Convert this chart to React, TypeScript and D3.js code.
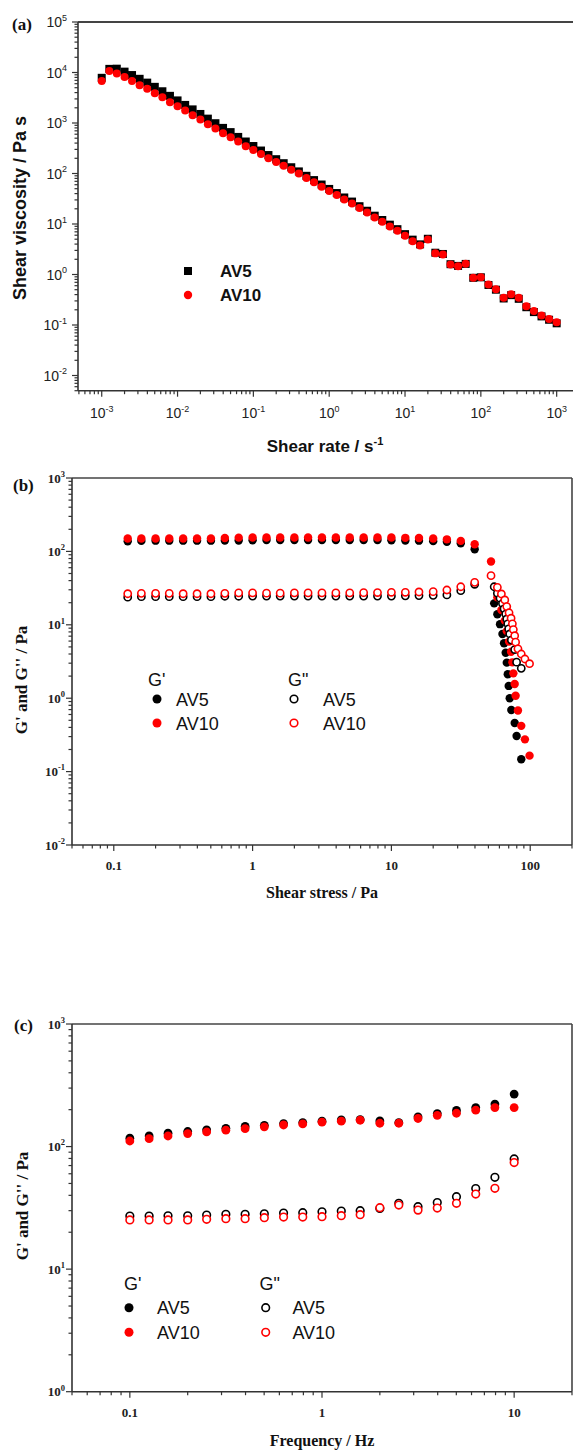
import React from "react";
import * as d3 from "d3";

// ---------- Panel (a): steady shear viscosity ----------
const shearRate = [
  0.001, 0.00126, 0.00158, 0.002, 0.00251, 0.00316, 0.00398, 0.00501, 0.00631, 0.00794,
  0.01, 0.0126, 0.0158, 0.02, 0.0251, 0.0316, 0.0398, 0.0501, 0.0631, 0.0794,
  0.1, 0.126, 0.158, 0.2, 0.251, 0.316, 0.398, 0.501, 0.631, 0.794,
  1, 1.26, 1.58, 2, 2.51, 3.16, 3.98, 5.01, 6.31, 7.94,
  10, 12.6, 15.8, 20, 25.1, 31.6, 39.8, 50.1, 63.1, 79.4,
  100, 126, 158, 200, 251, 316, 398, 501, 631, 794,
  1000,
];
const viscAV5 = [
  7850, 11800, 11900, 10400, 8900, 7500, 6300, 5200, 4250, 3450,
  2800, 2280, 1860, 1510, 1220, 990, 800, 660, 530, 430,
  350, 285, 232, 192, 160, 133, 110, 90, 74, 60.5,
  49.5, 41, 33.5, 27.8, 22.5, 18.3, 14.6, 12, 9.7, 7.9,
  6.3, 4.9, 3.95, 5.1, 2.7, 2.55, 1.6, 1.48, 1.62, 0.86,
  0.88, 0.62, 0.5, 0.335, 0.39, 0.33, 0.225, 0.18, 0.148, 0.127,
  0.108,
];
const viscAV10 = [
  6750, 10660, 9600, 8100, 6750, 5620, 4750, 3900, 3250, 2590,
  2150, 1770, 1430, 1170, 946, 778, 628, 523, 430, 347,
  293, 244, 201, 169, 142, 119, 99.5, 81.5, 66.9, 54.9,
  45, 37.4, 30.7, 25.6, 20.7, 16.8, 13.5, 11.1, 8.96, 7.36,
  5.86, 4.58, 3.74, 4.96, 2.62, 2.48, 1.58, 1.46, 1.63, 0.86,
  0.885, 0.634, 0.511, 0.345, 0.406, 0.345, 0.235, 0.19, 0.154, 0.132,
  0.113,
];

// ---------- Panel (b): amplitude (stress) sweep ----------
const stressPlateau = [
  0.126, 0.158, 0.2, 0.251, 0.316, 0.398, 0.501, 0.631, 0.794, 1,
  1.26, 1.58, 2, 2.51, 3.16, 3.98, 5.01, 6.31, 7.94, 10,
  12.6, 15.8, 20, 25.1, 31.6, 39.8,
];
const stressAV5 = [55, 58, 60.6, 63.1, 64.8, 66.6, 67.8, 68.9, 70, 71.2, 73.1, 77.3, 79.8, 86.2];
const stressAV10 = [52.2, 58, 62, 65.6, 67.8, 70.4, 72.8, 74.4, 75.6, 77.3, 78.5, 81.6, 86.2, 91.6, 98.9];

const gpAV5Plateau = [137, 139, 140, 140, 140, 140, 140, 141, 141, 142, 143, 143, 143, 143, 143, 143, 143, 143, 143, 142, 141, 140, 138, 135, 129, 107];
const gpAV5Drop = [19.6, 13.9, 10.2, 7.5, 5.6, 4.17, 3.05, 2.12, 1.47, 1.0, 0.69, 0.46, 0.305, 0.147];
const gppAV5Plateau = [23.8, 24.2, 24.2, 24.2, 24.2, 24.2, 24.2, 24.5, 24.5, 24.6, 24.6, 24.6, 24.6, 24.6, 24.6, 24.6, 24.6, 24.6, 24.6, 24.6, 24.8, 25, 25.2, 25.5, 29.2, 35.6];
const gppAV5Drop = [33, 27, 23, 19.5, 16.5, 14, 12, 10.3, 8.8, 7.5, 6.2, 4.6, 3.1, 2.55];

const gpAV10Plateau = [150, 150, 150, 150, 150, 150, 150, 152, 154, 155, 155, 155, 155, 155, 155, 155, 155, 155, 155, 155, 153, 152, 150, 146, 139, 125];
const gpAV10Drop = [73, 23.7, 15.9, 11.4, 8.2, 5.9, 4.3, 3.08, 2.18, 1.56, 1.08, 0.68, 0.42, 0.275, 0.165];
const gppAV10Plateau = [26.5, 26.8, 26.8, 26.8, 26.5, 26.5, 26.5, 26.8, 27.2, 27.2, 27, 27, 27.2, 27.2, 27.2, 27.2, 27.2, 27.4, 27.5, 27.7, 27.7, 28, 28.3, 29.8, 33, 37.9];
const gppAV10Drop = [46.7, 32.4, 26.3, 21.8, 17.7, 14.6, 12.3, 10.3, 8.6, 7.1, 5.8, 4.7, 4.0, 3.42, 2.95];

// ---------- Panel (c): frequency sweep ----------
const freq = [0.1, 0.126, 0.158, 0.2, 0.251, 0.316, 0.398, 0.501, 0.631, 0.794, 1, 1.26, 1.58, 2, 2.51, 3.16, 3.98, 5.01, 6.31, 7.94, 10];
const fGpAV5 = [117, 122, 128.5, 132.7, 137, 141, 146, 149, 154, 157, 161, 165, 166, 162, 157, 175, 186, 197, 208, 222, 268];
const fGpAV10 = [111, 116, 122, 127.6, 131.7, 136, 140, 145, 150, 153, 158, 161, 164, 155, 155, 169.5, 180, 187, 198, 208, 208];
const fGppAV5 = [27.1, 27.1, 27.2, 27.2, 27.6, 28, 28, 28.3, 28.7, 28.9, 29.4, 29.8, 30, 31.3, 34.4, 32.3, 34.9, 39, 45.4, 56.1, 79.3];
const fGppAV10 = [25.2, 25.2, 25.2, 25.2, 25.5, 25.8, 25.8, 26.3, 26.6, 26.6, 26.8, 27.3, 27.8, 31.7, 33.3, 30.3, 31.5, 34.4, 41, 45.6, 74];

const xTickLabelsB = ["0.1", "1", "10", "100"];
const xTickLabelsC = ["0.1", "1", "10"];

const SANS = "'Liberation Sans', Arial, sans-serif";
const SERIF = "'Liberation Serif', 'Times New Roman', serif";
const AX = "#333";
const RED = "#ff0000";

type LogScale = d3.ScaleLogarithmic<number, number>;

function logTicks(scale: LogScale) {
  const [a, b] = scale.domain();
  const lo = Math.min(a, b), hi = Math.max(a, b);
  const out: { v: number; major: boolean }[] = [];
  for (let d = Math.floor(Math.log10(lo)); d <= Math.ceil(Math.log10(hi)); d++) {
    for (let i = 1; i <= 9; i++) {
      const v = i * Math.pow(10, d);
      if (v >= lo * 0.999 && v <= hi * 1.001) out.push({ v, major: i === 1 });
    }
  }
  return out;
}

function Pow({ v, size, supSize, supDy }: { v: number; size: number; supSize: number; supDy: number }) {
  const e = Math.round(Math.log10(v));
  return (
    <>
      <tspan fontSize={size}>10</tspan>
      <tspan fontSize={supSize} dy={-supDy}>{String(e)}</tspan>
    </>
  );
}

function LeftAxis({ y, x, y0, y1, font, bold, size, supSize, labelX }: any) {
  const ticks = logTicks(y);
  return (
    <g>
      <line x1={x} x2={x} y1={y0} y2={y1} stroke={AX} strokeWidth={1.6} />
      {ticks.map((t, i) => (
        <line key={i} x1={x} x2={x - (t.major ? 6 : 3.5)} y1={y(t.v)} y2={y(t.v)} stroke={AX} strokeWidth={1.2} />
      ))}
      {ticks.filter((t) => t.major).map((t, i) => (
        <text key={"l" + i} x={labelX} y={y(t.v) + size * 0.36} textAnchor="end" fontFamily={font} fontWeight={bold ? "bold" : "normal"} fill="#222">
          <Pow v={t.v} size={size} supSize={supSize} supDy={size * 0.45} />
        </text>
      ))}
    </g>
  );
}

function BottomAxis({ x, yPos, x0, x1, font, bold, size, labelY, labels, pow }: any) {
  const ticks = logTicks(x);
  const majors = ticks.filter((t) => t.major);
  return (
    <g>
      <line x1={x0} x2={x1} y1={yPos} y2={yPos} stroke={AX} strokeWidth={1.6} />
      {ticks.map((t, i) => (
        <line key={i} x1={x(t.v)} x2={x(t.v)} y1={yPos} y2={yPos + (t.major ? 6 : 3.5)} stroke={AX} strokeWidth={1.2} />
      ))}
      {pow
        ? majors.map((t, i) => (
            <text key={"l" + i} x={x(t.v)} y={labelY} textAnchor="middle" fontFamily={font} fontWeight={bold ? "bold" : "normal"} fill="#222">
              <Pow v={t.v} size={size} supSize={size * 0.64} supDy={size * 0.45} />
            </text>
          ))
        : labels.map((lab: string) => (
            <text key={lab} x={x(+lab)} y={labelY} textAnchor="middle" fontFamily={font} fontWeight="bold" fontSize={size} fill="#222">
              {lab}
            </text>
          ))}
    </g>
  );
}

export default function App() {
  // Panel (a)
  const xA = d3.scaleLog().domain([5e-4, 2e3]).range([78.9, 579.5]);
  const yA = d3.scaleLog().domain([5e-3, 1e5]).range([390.7, 22]);
  // Panel (b)
  const xB = d3.scaleLog().domain([0.05, 200]).range([72, 572]);
  const yB = d3.scaleLog().domain([0.01, 1000]).range([845, 478]);
  // Panel (c)
  const xC = d3.scaleLog().domain([0.05, 20]).range([72, 572]);
  const yC = d3.scaleLog().domain([1, 1000]).range([1391.7, 1024]);

  const bAV5x = [...stressPlateau, ...stressAV5];
  const bAV10x = [...stressPlateau, ...stressAV10];
  const bGpAV5 = [...gpAV5Plateau, ...gpAV5Drop];
  const bGpAV10 = [...gpAV10Plateau, ...gpAV10Drop];
  const bGppAV5 = [...gppAV5Plateau, ...gppAV5Drop];
  const bGppAV10 = [...gppAV10Plateau, ...gppAV10Drop];

  const filled = (xs: number[], ys: number[], xs_: LogScale, ys_: LogScale, color: string, r: number, key: string) =>
    xs.map((v, i) => <circle key={key + i} cx={xs_(v)} cy={ys_(ys[i])} r={r} fill={color} />);
  const open = (xs: number[], ys: number[], xs_: LogScale, ys_: LogScale, color: string, r: number, key: string) =>
    xs.map((v, i) => <circle key={key + i} cx={xs_(v)} cy={ys_(ys[i])} r={r} fill="#fff" stroke={color} strokeWidth={1.6} />);

  return (
    <svg width={573} height={1450} style={{ position: "absolute", left: 0, top: 0, background: "#fff" }} xmlns="http://www.w3.org/2000/svg">
      <rect x={0} y={0} width={573} height={1450} fill="#fff" />

      {/* ================= Panel (a) ================= */}
      <text x={12} y={30} fontFamily={SERIF} fontWeight="bold" fontSize={17} fill="#111">(a)</text>
      <line x1={78} x2={573} y1={22} y2={22} stroke="#444" strokeWidth={2} />
      <LeftAxis y={yA} x={78} y0={22} y1={390.7} font={SANS} bold={false} size={14} supSize={9} labelX={67} />
      <BottomAxis x={xA} yPos={390.7} x0={78} x1={573} font={SANS} bold={false} size={14} labelY={418} pow />
      <text x={325} y={452} textAnchor="middle" fontFamily={SANS} fontWeight="bold" fontSize={17} fill="#111">
        Shear rate / s<tspan fontSize={11} dy={-7}>-1</tspan>
      </text>
      <text transform="translate(26,208) rotate(-90)" textAnchor="middle" fontFamily={SANS} fontWeight="bold" fontSize={18} fill="#111">
        Shear viscosity / Pa s
      </text>
      {shearRate.map((v, i) => (
        <rect key={"sq" + i} x={xA(v) - 4} y={yA(viscAV5[i]) - 4} width={8} height={8} fill="#000" />
      ))}
      {filled(shearRate, viscAV10, xA, yA, RED, 4, "ca")}
      {/* legend (a) */}
      <rect x={184} y={267} width={8} height={8} fill="#000" />
      <circle cx={188} cy={295} r={4.2} fill={RED} />
      <text x={220} y={277} fontFamily={SANS} fontWeight="bold" fontSize={17} fill="#111">AV5</text>
      <text x={220} y={301} fontFamily={SANS} fontWeight="bold" fontSize={17} fill="#111">AV10</text>

      {/* ================= Panel (b) ================= */}
      <text x={13} y={491} fontFamily={SERIF} fontWeight="bold" fontSize={17} fill="#111">(b)</text>
      <line x1={72} x2={572} y1={478} y2={478} stroke="#444" strokeWidth={1.6} />
      <line x1={572} x2={572} y1={478} y2={845} stroke="#444" strokeWidth={1.6} />
      <LeftAxis y={yB} x={72} y0={478} y1={845} font={SERIF} bold size={13} supSize={8.5} labelX={65} />
      <BottomAxis x={xB} yPos={845} x0={72} x1={572} font={SERIF} bold size={13} labelY={870} labels={xTickLabelsB} />
      <text x={322} y={898} textAnchor="middle" fontFamily={SERIF} fontWeight="bold" fontSize={16} fill="#111">Shear stress / Pa</text>
      <text transform="translate(27,680) rotate(-90)" textAnchor="middle" fontFamily={SERIF} fontWeight="bold" fontSize={17} fill="#111">
        G' and G'' / Pa
      </text>
      {filled(bAV5x, bGpAV5, xB, yB, "#000", 4.2, "bk")}
      {filled(bAV10x, bGpAV10, xB, yB, RED, 4.2, "br")}
      {open(bAV5x, bGppAV5, xB, yB, "#000", 3.6, "bko")}
      {open(bAV10x, bGppAV10, xB, yB, RED, 3.6, "bro")}
      {/* legend (b) */}
      <text x={148} y={686} fontFamily={SANS} fontSize={18} fill="#111">G'</text>
      <circle cx={157} cy={699} r={4.5} fill="#000" />
      <circle cx={157} cy={723} r={4.5} fill={RED} />
      <text x={176} y={705.5} fontFamily={SANS} fontSize={18} fill="#111">AV5</text>
      <text x={176} y={729.5} fontFamily={SANS} fontSize={18} fill="#111">AV10</text>
      <text x={288} y={686} fontFamily={SANS} fontSize={18} fill="#111">G"</text>
      <circle cx={294} cy={699} r={3.8} fill="#fff" stroke="#000" strokeWidth={1.6} />
      <circle cx={294} cy={723} r={3.8} fill="#fff" stroke={RED} strokeWidth={1.6} />
      <text x={323} y={705.5} fontFamily={SANS} fontSize={18} fill="#111">AV5</text>
      <text x={323} y={729.5} fontFamily={SANS} fontSize={18} fill="#111">AV10</text>

      {/* ================= Panel (c) ================= */}
      <text x={14} y={1031} fontFamily={SERIF} fontWeight="bold" fontSize={17} fill="#111">(c)</text>
      <line x1={72} x2={572} y1={1024} y2={1024} stroke="#444" strokeWidth={1.6} />
      <line x1={572} x2={572} y1={1024} y2={1391.7} stroke="#444" strokeWidth={1.6} />
      <LeftAxis y={yC} x={72} y0={1024} y1={1391.7} font={SERIF} bold size={13} supSize={8.5} labelX={65} />
      <BottomAxis x={xC} yPos={1391.7} x0={72} x1={572} font={SERIF} bold size={13} labelY={1416.5} labels={xTickLabelsC} />
      <text x={322} y={1445.5} textAnchor="middle" fontFamily={SERIF} fontWeight="bold" fontSize={16} fill="#111">Frequency / Hz</text>
      <text transform="translate(28,1206) rotate(-90)" textAnchor="middle" fontFamily={SERIF} fontWeight="bold" fontSize={17} fill="#111">
        G' and G'' / Pa
      </text>
      {filled(freq, fGpAV5, xC, yC, "#000", 4.4, "ck")}
      {filled(freq, fGpAV10, xC, yC, RED, 4.4, "cr")}
      {open(freq, fGppAV5, xC, yC, "#000", 3.8, "cko")}
      {open(freq, fGppAV10, xC, yC, RED, 3.8, "cro")}
      {/* legend (c) */}
      <text x={124} y={1289.5} fontFamily={SANS} fontSize={18} fill="#111">G'</text>
      <circle cx={129} cy={1307.7} r={4.5} fill="#000" />
      <circle cx={129} cy={1332.3} r={4.5} fill={RED} />
      <text x={157} y={1314.2} fontFamily={SANS} fontSize={18} fill="#111">AV5</text>
      <text x={157} y={1338.8} fontFamily={SANS} fontSize={18} fill="#111">AV10</text>
      <text x={259.5} y={1289.5} fontFamily={SANS} fontSize={18} fill="#111">G"</text>
      <circle cx={265.7} cy={1307.7} r={3.8} fill="#fff" stroke="#000" strokeWidth={1.6} />
      <circle cx={265.7} cy={1332.3} r={3.8} fill="#fff" stroke={RED} strokeWidth={1.6} />
      <text x={292.4} y={1314.2} fontFamily={SANS} fontSize={18} fill="#111">AV5</text>
      <text x={292.4} y={1338.8} fontFamily={SANS} fontSize={18} fill="#111">AV10</text>
    </svg>
  );
}
